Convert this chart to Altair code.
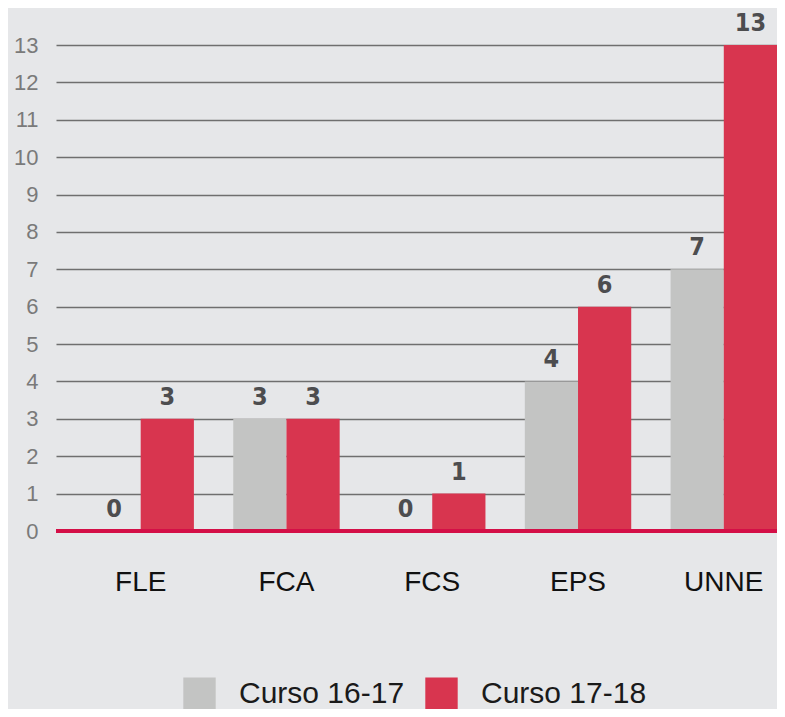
import altair as alt
import pandas as pd

categories = ["FLE", "FCA", "FCS", "EPS", "UNNE"]
series_names = ["Curso 16-17", "Curso 17-18"]
curso_1617 = [0, 3, 0, 4, 7]
curso_1718 = [3, 3, 1, 6, 13]
y_ticks = list(range(0, 14))

rows = []
for c, a, b in zip(categories, curso_1617, curso_1718):
    rows.append({"cat": c, "serie": series_names[0], "value": a})
    rows.append({"cat": c, "serie": series_names[1], "value": b})
df = pd.DataFrame(rows)

GRAY = "#c3c4c3"
RED = "#d8354f"
BG = "#e6e7e9"

x_enc = alt.X("cat:N", sort=categories, title=None,
              scale=alt.Scale(paddingInner=0.27, paddingOuter=0.108, align=1),
              axis=alt.Axis(labelFontSize=28, labelColor="#111111", labelFont="Liberation Sans",
                            labelPadding=37, domain=False, ticks=False, labelAngle=0))
xoff = alt.XOffset("serie:N", sort=series_names, scale=alt.Scale(paddingInner=0, paddingOuter=0))
y_enc = alt.Y("value:Q", title=None,
              scale=alt.Scale(domain=[0, 13], nice=False),
              axis=alt.Axis(values=y_ticks, labelFontSize=22, labelColor="#7a7a7a",
                            labelFont="Liberation Sans", labelPadding=18, domain=False, ticks=False,
                            labelOverlap=False, labelBaseline="middle",
                            grid=True, gridColor="#6f6f6f", gridWidth=1.5))

base = alt.Chart(df)

bars = base.mark_bar().encode(
    x=x_enc, xOffset=xoff, y=y_enc,
    color=alt.Color("serie:N", sort=series_names,
                    scale=alt.Scale(domain=series_names, range=[GRAY, RED]),
                    legend=alt.Legend(title=None, orient="none", direction="horizontal",
                                      legendX=127, legendY=632, padding=0,
                                      symbolType="square", symbolSize=1050, symbolStrokeWidth=0,
                                      labelFontSize=30, labelColor="#1a1a1a", labelFont="Liberation Sans",
                                      labelOffset=23, columnPadding=20, symbolOpacity=1,
                                      labelLimit=400)),
)

labels = base.mark_text(baseline="bottom", dy=-9, fontSize=25, fontWeight="bold",
                        font="DejaVu Sans Condensed", color="#4d4d4f").encode(
    x=x_enc, xOffset=xoff, y=y_enc, text=alt.Text("value:Q"))

baseline = alt.Chart(pd.DataFrame({"value": [0]})).mark_rule(color="#d40f47", strokeWidth=4).encode(
    y=y_enc)

chart = alt.layer(bars, labels, baseline).properties(
    width=721, height=486,
    padding={"left": 48, "top": 37, "right": 0, "bottom": 178},
    autosize=alt.AutoSizeParams(type="none"),
    background=BG,
).configure_view(stroke=None)

chart.save("out.html", embed_options={"renderer": "svg", "actions": False})
